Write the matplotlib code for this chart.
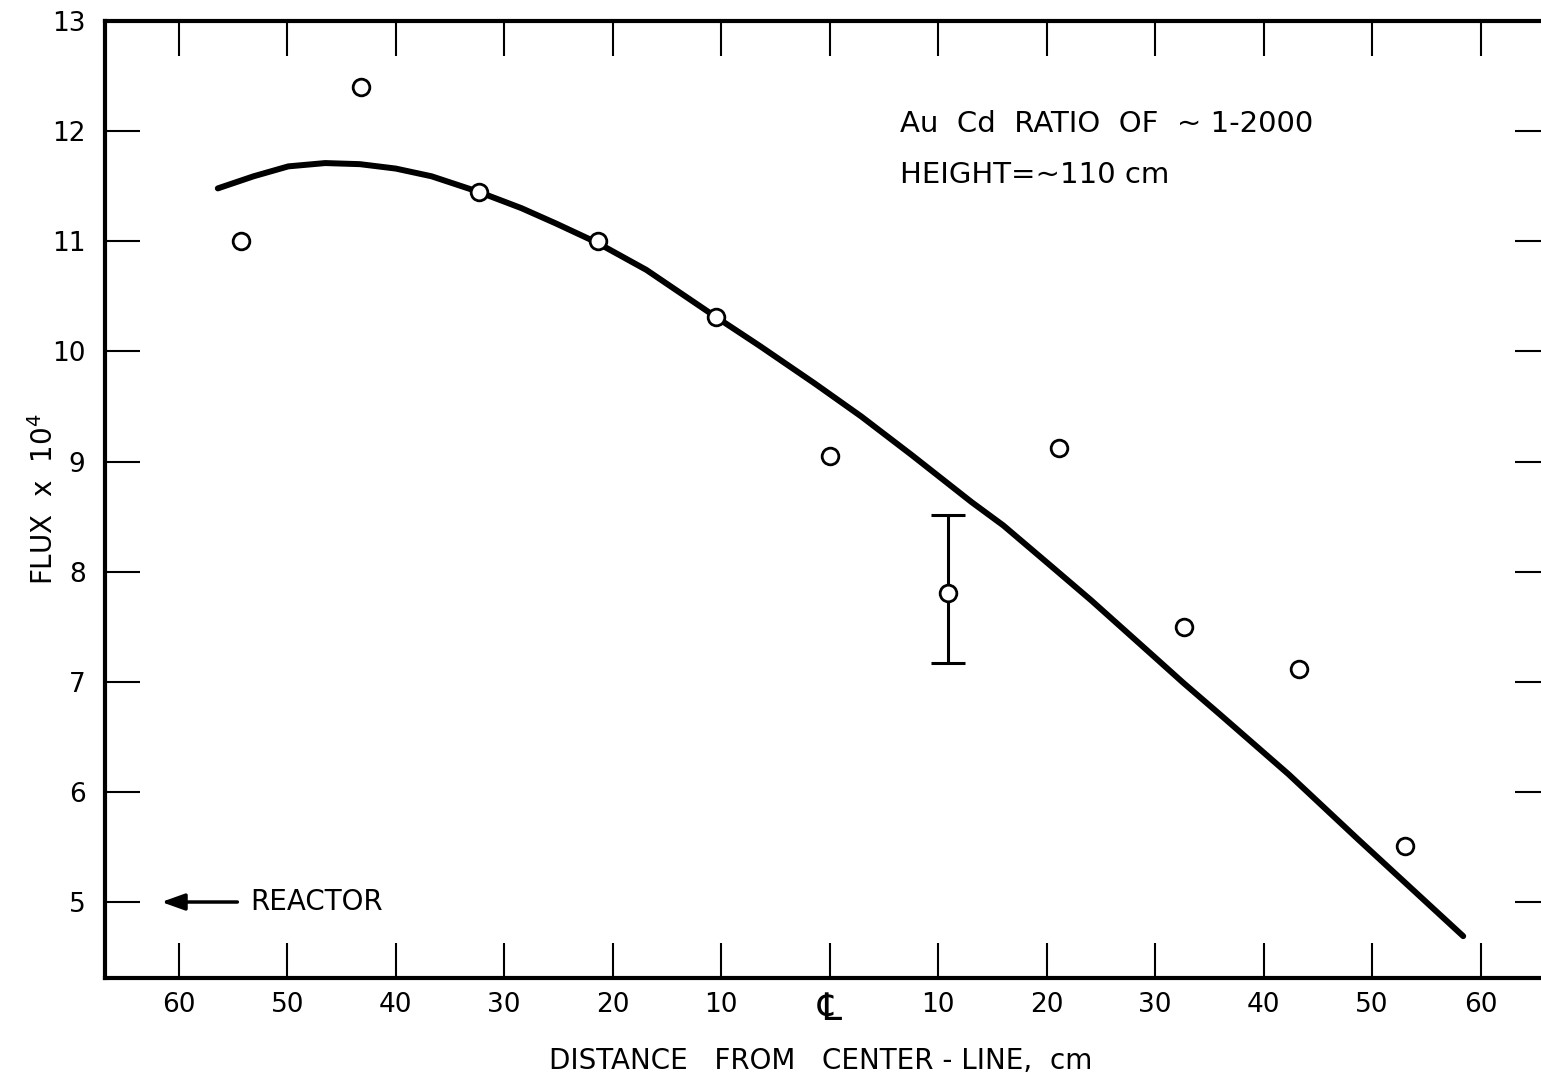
import matplotlib.pyplot as plt

# measured points (signed distance from center line, cm; negative = reactor side)
pt_x = [-54.3, -43.2, -32.35, -21.4, -10.5, 0.0, 10.9, 21.1, 32.7, 43.3, 53.0]
pt_y = [11.0, 12.40, 11.45, 11.0, 10.31, 9.05, 7.81, 9.12, 7.50, 7.12, 5.51]

# error bar on the single point
err_x = 10.9
err_y = 7.81
err_lo = 7.17
err_hi = 8.51

# hand-drawn fitted curve
curve_x = [-56.4, -53.1, -49.9, -46.5, -43.3, -40.0, -36.7, -32.4, -28.4, -25.2,
           -21.5, -16.9, -10.6, -6.45, -1.4, 2.9, 7.55, 13.1, 16.0, 20.3,
           24.1, 30.0, 32.6, 35.9, 42.3, 48.7, 58.4]
curve_y = [11.48, 11.59, 11.68, 11.71, 11.70, 11.66, 11.59, 11.45, 11.30, 11.16,
           10.99, 10.74, 10.32, 10.05, 9.71, 9.41, 9.06, 8.63, 8.42, 8.06,
           7.74, 7.22, 6.99, 6.71, 6.16, 5.57, 4.69]

xticks = [-60, -50, -40, -30, -20, -10, 0, 10, 20, 30, 40, 50, 60]
xticklabels = ['60', '50', '40', '30', '20', '10', '\u2104', '10', '20', '30', '40', '50', '60']
yticks = [5, 6, 7, 8, 9, 10, 11, 12, 13]

plt.rcParams['font.family'] = ['DejaVu Sans']

fig = plt.figure(figsize=(15.41, 10.78), dpi=100)
ax = fig.add_axes([105 / 1541, 1 - 978 / 1078, (1550 - 105) / 1541, (978 - 21) / 1078])
ax.set_xlim(-66.8, 66.4)
ax.set_ylim(4.31, 13.0)

ax.plot(curve_x, curve_y, color='black', lw=4.3, solid_capstyle='round',
        solid_joinstyle='round')
ax.errorbar([err_x], [err_y], yerr=[[err_y - err_lo], [err_hi - err_y]],
            fmt='none', ecolor='black', elinewidth=2.2, capsize=12, capthick=2.2)
ax.plot(pt_x, pt_y, 'o', ms=12, mfc='white', mec='black', mew=2.0, zorder=5)

for s in ax.spines.values():
    s.set_linewidth(3)

ax.set_xticks(xticks)
ax.set_xticklabels(xticklabels)
ax.set_yticks(yticks)
ax.tick_params(axis='both', direction='in', length=25, width=1.5,
               top=True, right=True, labelsize=19, pad=14)
ax.tick_params(axis='x', pad=10)
# the centre-line glyph is small in DejaVu, bump it up
ax.get_xticklabels()[6].set_fontsize(27)

ax.set_xlabel('DISTANCE   FROM   CENTER - LINE,  cm', fontsize=20)
ax.xaxis.set_label_coords(0.495, -0.072)
ax.set_ylabel('FLUX  x  10$^4$', fontsize=20)
ax.yaxis.set_label_coords(-0.032, 0.5)

ax.text(6.5, 11.99, 'Au  Cd  RATIO  OF  ~ 1-2000', fontsize=21)
ax.text(6.5, 11.53, 'HEIGHT=~110 cm', fontsize=21)

ax.annotate('', xy=(-61.6, 5.0), xytext=(-54.6, 5.0),
            arrowprops=dict(arrowstyle='-|>,head_length=1.4,head_width=0.5',
                            color='black', lw=2.5, shrinkA=0, shrinkB=0))
ax.text(-53.4, 5.0, 'REACTOR', fontsize=20, va='center')

fig.savefig('out.png', dpi=100)
